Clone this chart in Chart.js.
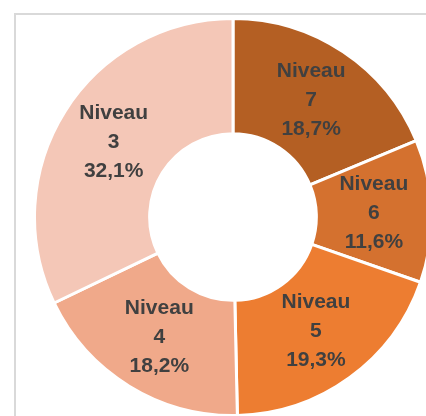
<!DOCTYPE html>
<html>
<head>
<meta charset="utf-8">
<script src="https://cdn.jsdelivr.net/npm/chart.js@4"></script>
<style>
  html, body { margin: 0; padding: 0; background: #fff; }
  body { width: 426px; height: 416px; overflow: hidden; position: relative; }
  #frame { position: absolute; left: 14px; top: 13px; width: 480px; height: 480px; border: 2px solid #D9D9D9; box-sizing: border-box; }
  #wrap { position: absolute; left: 33px; top: 17px; width: 400px; height: 400px; }
</style>
</head>
<body>
<div id="frame"></div>
<div id="wrap"><canvas id="myChart"></canvas></div>
<script>
const categories = ['Niveau 7', 'Niveau 6', 'Niveau 5', 'Niveau 4', 'Niveau 3'];
const values = [18.7, 11.6, 19.3, 18.2, 32.1];
const colors = ['#B45F23', '#D4712F', '#ED7D31', '#F0A98A', '#F4C7B7'];

// draw "Niveau / n / xx,x%" in the middle of each slice
const sliceLabels = {
  id: 'sliceLabels',
  afterDatasetsDraw(chart) {
    const ctx = chart.ctx;
    const meta = chart.getDatasetMeta(0);
    ctx.save();
    ctx.fillStyle = '#404040';
    ctx.font = 'bold 21px "Liberation Sans", Arial, sans-serif';
    ctx.textAlign = 'center';
    ctx.textBaseline = 'middle';
    meta.data.forEach((arc, i) => {
      const p = arc.tooltipPosition();
      const parts = categories[i].split(' ');
      const pct = values[i].toFixed(1).replace('.', ',') + '%';
      const lines = [parts[0], parts[1], pct];
      lines.forEach((t, k) => {
        ctx.fillText(t, p.x, p.y + (k - 1) * 29);
      });
    });
    ctx.restore();
  }
};

new Chart(document.getElementById('myChart'), {
  type: 'doughnut',
  data: {
    labels: categories,
    datasets: [{
      data: values,
      backgroundColor: colors,
      borderColor: '#ffffff',
      borderWidth: 3
    }]
  },
  options: {
    responsive: true,
    maintainAspectRatio: false,
    animation: false,
    cutout: '42%',
    layout: { padding: 0 },
    plugins: {
      legend: { display: false },
      tooltip: { enabled: false }
    }
  },
  plugins: [sliceLabels]
});
</script>
</body>
</html>
